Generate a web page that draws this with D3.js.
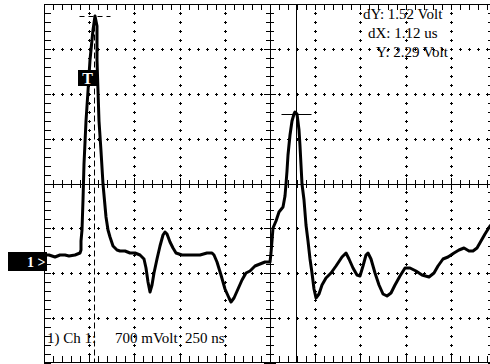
<!DOCTYPE html>
<html>
<head>
<meta charset="utf-8">
<script src="https://cdn.jsdelivr.net/npm/d3@7"></script>
<style>
  html, body { margin: 0; padding: 0; background: #fff; overflow: hidden; }
  svg { display: block; }
  text { font-family: "Liberation Serif", "Times New Roman", serif; fill: #000; }
</style>
</head>
<body>
<svg id="scope" width="490" height="364"></svg>
<script>
// Channel 1 acquisition: time (ns) and voltage (V) samples
const traceTimes = [0, 30, 60, 90, 115, 140, 170, 198,
  203, 205, 208, 214, 220, 231, 242, 253, 270, 281,
  292, 295, 297, 303, 314, 325, 342, 353, 364, 380, 403, 419, 447, 474, 502, 530, 552, 563, 574, 585,
  596, 607, 624, 640, 657, 668, 679, 696, 712, 729, 762, 806, 862, 901, 928, 939, 956, 978, 1000,
  1022, 1033, 1050, 1072, 1094, 1116, 1139, 1166, 1194, 1222, 1249,
  1255, 1260, 1266, 1283, 1299, 1321, 1332, 1338, 1343, 1349, 1360, 1371, 1382, 1391, 1399, 1410,
  1415, 1426, 1437, 1448, 1460, 1471, 1482, 1493, 1504, 1521, 1537, 1559, 1587, 1614, 1648, 1670,
  1686, 1709, 1731, 1747, 1764, 1781, 1792, 1808, 1830, 1853, 1875, 1897, 1919, 1941, 1969, 1996,
  2024, 2057, 2090, 2129, 2157, 2179, 2207, 2234, 2268, 2295, 2323, 2351, 2373, 2395, 2417, 2439,
  2467, 2500];
const traceVolts = [0.08, 0.09, 0.06, 0.08, 0.09, 0.07, 0.09, 0.11,
  0.16, 0.31, 0.47, 0.94, 1.51, 2.18, 2.65, 3.12, 3.59, 3.82,
  3.66, 3.12, 2.65, 2.18, 1.71, 1.20, 0.67, 0.47, 0.36, 0.23, 0.17, 0.14, 0.14, 0.12, 0.11, 0.08, 0.03, -0.12, -0.34, -0.50,
  -0.39, -0.19, 0.03, 0.23, 0.39, 0.45, 0.42, 0.28, 0.19, 0.12, 0.09, 0.09, 0.08, 0.11, 0.12, 0.09, -0.03, -0.23, -0.44,
  -0.59, -0.65, -0.58, -0.44, -0.31, -0.20, -0.16, -0.09, -0.06, -0.03, -0.02,
  0.12, 0.31, 0.50, 0.62, 0.75, 0.84, 1.01, 1.20, 1.40, 1.64, 1.95, 2.18, 2.28, 2.31, 2.28, 2.03,
  1.79, 1.20, 0.94, 0.55, 0.31, 0.03, -0.19, -0.44, -0.58, -0.53, -0.39, -0.28, -0.19, -0.09, 0.05, 0.11,
  0.03, -0.12, -0.23, -0.25, -0.08, 0.08, 0.12, 0.03, -0.19, -0.39, -0.53, -0.56, -0.51, -0.39, -0.25, -0.12,
  -0.12, -0.17, -0.23, -0.26, -0.20, -0.08, 0.02, 0.06, 0.11, 0.16, 0.19, 0.14, 0.14, 0.20, 0.31, 0.42,
  0.53, 0.62];

// Cursor pair: times (ns) and levels (V)
const cursorTimes = [276, 1396];
const cursorVolts = [3.81, 2.29];

// Screen setup
const timePerDiv = 250;      // ns / div
const voltsPerDiv = 0.7;     // V / div
const timeDivs = 10;
const voltDivs = 8;
const voltTop = 4.0;
const minorPerDiv = 5;
const channelText = ["1) Ch 1:", "700 mVolt", "250 ns"];
const markerText = ["1 >", "T"];

const svg = d3.select("#scope");

const tMax = timePerDiv * timeDivs;
const vBottom = +(voltTop - voltsPerDiv * voltDivs).toFixed(3);

const x = d3.scaleLinear().domain([0, tMax]).rangeRound([44, 496]);
const y = d3.scaleLinear().domain([vBottom, voltTop]).rangeRound([363, 4]);

const tCenter = tMax / 2;
const vCenter = +(vBottom + voltsPerDiv * voltDivs / 2).toFixed(3);

const minorT = d3.range(0, timeDivs * minorPerDiv + 1).map(i => i * timePerDiv / minorPerDiv);
const minorV = d3.range(0, voltDivs * minorPerDiv + 1).map(i => +(vBottom + i * voltsPerDiv / minorPerDiv).toFixed(4));
const majorT = d3.range(0, timeDivs + 1).map(i => i * timePerDiv);
const majorV = d3.range(0, voltDivs + 1).map(i => +(vBottom + i * voltsPerDiv).toFixed(4));
const isMajorT = t => Math.abs(t / timePerDiv - Math.round(t / timePerDiv)) < 1e-6;
const isMajorV = v => { const k = (v - vBottom) / voltsPerDiv; return Math.abs(k - Math.round(k)) < 1e-6; };

// Dotted graticule: small crosses at every minor position along interior division lines
const g = svg.append("g").attr("stroke", "#000").attr("stroke-width", 1).attr("fill", "none");
let crossPath = "";
const cross = (px, py) => {
  crossPath += `M${px - 1},${py + 0.5}H${px + 2}M${px + 0.5},${py - 1}V${py + 2}`;
};
majorT.filter(t => t > 0 && t < tMax && t !== tCenter).forEach(t => {
  minorV.filter(v => v > vBottom && v < voltTop).forEach(v => cross(x(t), y(v)));
});
majorV.filter(v => v > vBottom && v < voltTop && Math.abs(v - vCenter) > 1e-6).forEach(v => {
  minorT.filter(t => t > 0 && t < tMax).forEach(t => cross(x(t), y(v)));
});
g.append("path").attr("d", crossPath);

// Border scales with inward ticks
const noLabel = () => "";
svg.append("g").attr("transform", "translate(0,4)")
  .call(d3.axisTop(x).tickValues(minorT).tickSizeInner(-6).tickSizeOuter(0).tickFormat(noLabel));
svg.append("g").attr("transform", "translate(0,362)")
  .call(d3.axisBottom(x).tickValues(minorT).tickSizeInner(-6).tickSizeOuter(0).tickFormat(noLabel));
svg.append("g").attr("transform", "translate(44,0)")
  .call(d3.axisLeft(y).tickValues(minorV).tickSizeInner(-7).tickSizeOuter(0).tickFormat(noLabel));
svg.append("g").attr("transform", "translate(495,0)")
  .call(d3.axisRight(y).tickValues(minorV).tickSizeInner(-7).tickSizeOuter(0).tickFormat(noLabel));

// Centre cross-hair axes with ticks on both sides
const hAxis = svg.append("g").attr("transform", `translate(0,${y(vCenter)})`)
  .call(d3.axisBottom(x).tickValues(minorT).tickSizeOuter(0).tickFormat(noLabel));
hAxis.selectAll(".tick line").attr("y1", d => isMajorT(d) ? -6 : -4).attr("y2", d => isMajorT(d) ? 6 : 4);
const vAxis = svg.append("g").attr("transform", `translate(${x(tCenter)},0)`)
  .call(d3.axisLeft(y).tickValues(minorV).tickSizeOuter(0).tickFormat(noLabel));
vAxis.selectAll(".tick line").attr("x1", d => isMajorV(d) ? -6 : -4).attr("x2", d => isMajorV(d) ? 6 : 4);

svg.selectAll(".domain, .tick line").attr("stroke", "#000").attr("stroke-width", 1);

// Cursors
const cx0 = x(cursorTimes[0]) + 0.5, cx1 = x(cursorTimes[1]) + 0.5;
const cy0 = y(cursorVolts[0]) + 0.5, cy1 = y(cursorVolts[1]) + 0.5;
const cur = svg.append("g").attr("stroke", "#000").attr("stroke-width", 1).attr("fill", "none");
cur.append("line").attr("x1", cx0).attr("x2", cx0).attr("y1", cy0).attr("y2", y(vBottom))
  .attr("stroke-dasharray", "6,3");
cur.append("line").attr("x1", cx0 - 15).attr("x2", cx0 + 16).attr("y1", cy0).attr("y2", cy0)
  .attr("stroke-dasharray", "5,4");
cur.append("line").attr("x1", cx1).attr("x2", cx1).attr("y1", y(voltTop)).attr("y2", y(vBottom));
cur.append("line").attr("x1", cx1 - 15).attr("x2", cx1 + 15).attr("y1", cy1).attr("y2", cy1);

// Signal trace
const trace = traceTimes.map((t, i) => [t, traceVolts[i]]);
svg.append("path")
  .datum(trace)
  .attr("fill", "none")
  .attr("stroke", "#000")
  .attr("stroke-width", 3)
  .attr("stroke-linejoin", "round")
  .attr("d", d3.line().x(d => x(d[0])).y(d => y(d[1])));

// Channel ground marker and trigger marker
svg.append("rect").attr("x", 8).attr("y", y(0) - 8).attr("width", 39).attr("height", 19).attr("fill", "#000");
svg.append("text").attr("x", 27).attr("y", y(0) + 7).attr("font-size", 14).attr("font-weight", "bold")
  .style("fill", "#fff").text(markerText[0]);
svg.append("rect").attr("x", 78).attr("y", 70).attr("width", 19).attr("height", 16).attr("fill", "#000");
svg.append("text").attr("x", 87.5).attr("y", 84).attr("text-anchor", "middle").attr("font-size", 16)
  .attr("font-weight", "bold").style("fill", "#fff").text(markerText[1]);

// Cursor readouts
const dY = (cursorVolts[0] - cursorVolts[1]).toFixed(2);
const dX = ((cursorTimes[1] - cursorTimes[0]) / 1000).toFixed(2);
const readouts = [
  { s: `dY: ${dY} Volt`, x: 363, y: 19 },
  { s: `dX: ${dX} us`, x: 368, y: 38 },
  { s: `Y: ${cursorVolts[1].toFixed(2)} Volt`, x: 376, y: 57 }
];
svg.selectAll("text.readout").data(readouts).join("text").attr("class", "readout")
  .attr("x", d => d.x).attr("y", d => d.y).attr("font-size", 15).text(d => d.s);

// Channel settings line
const settings = [
  { s: channelText[0], x: 47 },
  { s: channelText[1], x: 115 },
  { s: channelText[2], x: 185 }
];
svg.selectAll("text.setting").data(settings).join("text").attr("class", "setting")
  .attr("x", d => d.x).attr("y", 343).attr("font-size", 15).text(d => d.s);
</script>
</body>
</html>
